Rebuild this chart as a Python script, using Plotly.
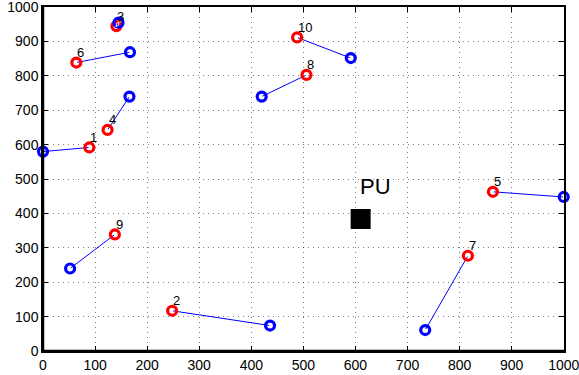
import plotly.graph_objects as go

labels = ["1", "2", "3", "4", "5", "6", "7", "8", "9", "10"]
red_x = [89, 248, 141, 124, 864, 64, 816, 506, 138, 488]
red_y = [592, 117, 945, 643, 463, 839, 277, 803, 339, 912]
blue_x = [0, 436, 145, 166, 1000, 167, 734, 420, 52, 591]
blue_y = [580, 74, 955, 740, 448, 869, 61, 740, 240, 852]
pu_x = [610]
pu_y = [384]
pu_label = "PU"
tick_vals = list(range(0, 1001, 100))

fig = go.Figure()

# connecting lines
for i in range(len(labels)):
    fig.add_trace(go.Scatter(
        x=[red_x[i], blue_x[i]], y=[red_y[i], blue_y[i]],
        mode="lines", line=dict(color="#0000ff", width=1),
        showlegend=False, hoverinfo="skip", cliponaxis=False))

fig.add_trace(go.Scatter(
    x=red_x, y=red_y, mode="markers", cliponaxis=False,
    marker=dict(symbol="circle-open", size=9, color="#ff0000",
                line=dict(width=3.2, color="#ff0000")),
    showlegend=False))
fig.add_trace(go.Scatter(
    x=blue_x, y=blue_y, mode="markers", cliponaxis=False,
    marker=dict(symbol="circle-open", size=9, color="#0000ff",
                line=dict(width=3.2, color="#0000ff")),
    showlegend=False))
# small white centre dots
fig.add_trace(go.Scatter(
    x=red_x + blue_x, y=red_y + blue_y, mode="markers", cliponaxis=False,
    marker=dict(symbol="circle", size=2, color="white"),
    showlegend=False, hoverinfo="skip"))

fig.add_trace(go.Scatter(
    x=pu_x, y=pu_y, mode="markers",
    marker=dict(symbol="square", size=20, color="black"),
    showlegend=False))

for i, lab in enumerate(labels):
    fig.add_annotation(x=red_x[i], y=red_y[i], text=lab, showarrow=False,
                       xanchor="left", yanchor="middle", xshift=-1, yshift=10,
                       font=dict(size=13, color="black", family="Liberation Sans, Arial"))

fig.add_annotation(x=pu_x[0], y=pu_y[0], text=pu_label, showarrow=False,
                   xanchor="left", yanchor="middle", xshift=-3, yshift=32,
                   font=dict(size=22, color="black", family="Liberation Sans, Arial"))

axis_common = dict(
    range=[0, 1000.5], tickvals=tick_vals, ticktext=[str(v) for v in tick_vals],
    showgrid=True, gridcolor="rgba(0,0,0,0.5)", gridwidth=1, griddash="1px,4px",
    zeroline=False, showline=True, linecolor="black", linewidth=1.5, mirror="ticks",
    ticks="inside", ticklen=5, tickwidth=1, tickcolor="black", automargin=False,
    ticklabeloverflow="allow",
    tickfont=dict(size=14, color="black", family="Liberation Sans, Arial"),
)
fig.update_xaxes(**axis_common)
fig.update_yaxes(**axis_common)

# heavier left and bottom axis lines
fig.add_shape(type="line", xref="x domain", yref="y domain", x0=0, x1=0, y0=0, y1=1,
              line=dict(color="black", width=2.5), layer="above")
fig.add_shape(type="line", xref="x domain", yref="y domain", x0=0, x1=1, y0=0, y1=0,
              line=dict(color="black", width=2.5), layer="above")

fig.update_layout(
    width=579, height=375,
    margin=dict(l=43, r=15, t=7, b=24),
    plot_bgcolor="white", paper_bgcolor="white",
    font=dict(family="Liberation Sans, Arial", color="black"),
)

fig.write_html("out.html", config={"displayModeBar": False},
               post_script="document.body.style.margin='0';document.body.style.overflow='hidden';")
